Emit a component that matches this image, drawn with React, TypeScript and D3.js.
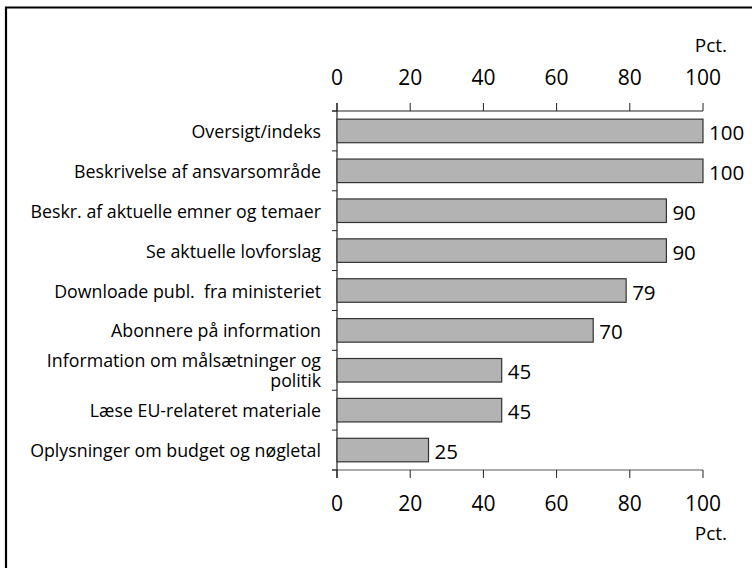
import React from "react";
import * as d3 from "d3";

// Share of respondents using each website function (percent)
const categories: string[] = [
  "Oversigt/indeks",
  "Beskrivelse af ansvarsområde",
  "Beskr. af aktuelle emner og temaer",
  "Se aktuelle lovforslag",
  "Downloade publ.  fra ministeriet",
  "Abonnere på information",
  "Information om målsætninger og\npolitik",
  "Læse EU-relateret materiale",
  "Oplysninger om budget og nøgletal",
];
const values: number[] = [100, 100, 90, 90, 79, 70, 45, 45, 25];
const tickValues: number[] = [0, 20, 40, 60, 80, 100];
const unitLabel = "Pct.";

const W = 752;
const H = 568;
const FONT = "'Open Sans', 'Noto Sans', sans-serif";

export default function App() {
  const x = d3.scaleLinear().domain([0, 100]).range([337, 703]);
  const y = d3
    .scaleBand<string>()
    .domain(categories)
    .range([111, 470])
    .paddingInner(0.41)
    .paddingOuter(0.205);

  const [y0, y1] = y.range();
  const step = y.step();
  const boundaries = d3.range(categories.length + 1).map((i) => y0 + i * step);
  const xStart = x(0) - 5;

  return (
    <svg
      width={W}
      height={H}
      viewBox={`0 0 ${W} ${H}`}
      style={{ position: "absolute", left: 0, top: 0, display: "block", background: "#fff" }}
    >
      {/* frame */}
      <path d={`M6,${H} V7.5 H${W}`} fill="none" stroke="#000" strokeWidth={2.2} />

      {/* unit labels */}
      <text x={727} y={45} textAnchor="end" dominantBaseline="central" fontFamily={FONT} fontSize={19} fill="#000">
        {unitLabel}
      </text>
      <text x={727} y={533} textAnchor="end" dominantBaseline="central" fontFamily={FONT} fontSize={19} fill="#000">
        {unitLabel}
      </text>

      {/* top axis */}
      <line x1={xStart} x2={x(100)} y1={y0} y2={y0} stroke="#222" strokeWidth={1} />
      {tickValues.map((t) => (
        <g key={`tt${t}`}>
          <line x1={x(t)} x2={x(t)} y1={y0 - 8} y2={y0} stroke="#222" strokeWidth={1} />
          <text x={x(t)} y={77} textAnchor="middle" dominantBaseline="central" fontFamily={FONT} fontSize={21} fill="#000">
            {t}
          </text>
        </g>
      ))}

      {/* bottom axis */}
      <line x1={xStart} x2={x(100)} y1={y1} y2={y1} stroke="#555" strokeWidth={1} />
      {tickValues.map((t) => (
        <g key={`bt${t}`}>
          <line x1={x(t)} x2={x(t)} y1={y1} y2={y1 + 8} stroke="#222" strokeWidth={1} />
          <text x={x(t)} y={503} textAnchor="middle" dominantBaseline="central" fontFamily={FONT} fontSize={21} fill="#000">
            {t}
          </text>
        </g>
      ))}

      {/* category axis */}
      <line x1={x(0)} x2={x(0)} y1={y0 - 8} y2={y1 + 8} stroke="#222" strokeWidth={1.2} />
      {boundaries.map((b, i) => (
        <line key={`sep${i}`} x1={xStart} x2={x(0)} y1={b} y2={b} stroke="#222" strokeWidth={1} />
      ))}

      {/* bars */}
      {categories.map((c, i) => (
        <rect
          key={`bar${i}`}
          x={x(0)}
          y={y(c)!}
          width={x(values[i]) - x(0)}
          height={y.bandwidth()}
          fill="#b3b3b3"
          stroke="#333"
          strokeWidth={1.2}
        />
      ))}

      {/* value labels */}
      {categories.map((c, i) => (
        <text
          key={`val${i}`}
          x={x(values[i]) + 6}
          y={y(c)! + y.bandwidth() / 2 + 1}
          dominantBaseline="central"
          fontFamily={FONT}
          fontSize={20.5}
          fill="#000"
        >
          {values[i]}
        </text>
      ))}

      {/* category labels */}
      {categories.map((c, i) => {
        const lines = c.split("\n");
        const cy = y(c)! + y.bandwidth() / 2;
        const lh = 20;
        return (
          <text
            key={`cat${i}`}
            textAnchor="end"
            fontFamily={FONT}
            fontSize={17.8}
            fill="#000"
            style={{ whiteSpace: "pre" }}
          >
            {lines.map((l, j) => (
              <tspan key={j} x={321} y={cy + (j - (lines.length - 1) / 2) * lh} dominantBaseline="central">
                {l}
              </tspan>
            ))}
          </text>
        );
      })}
    </svg>
  );
}
